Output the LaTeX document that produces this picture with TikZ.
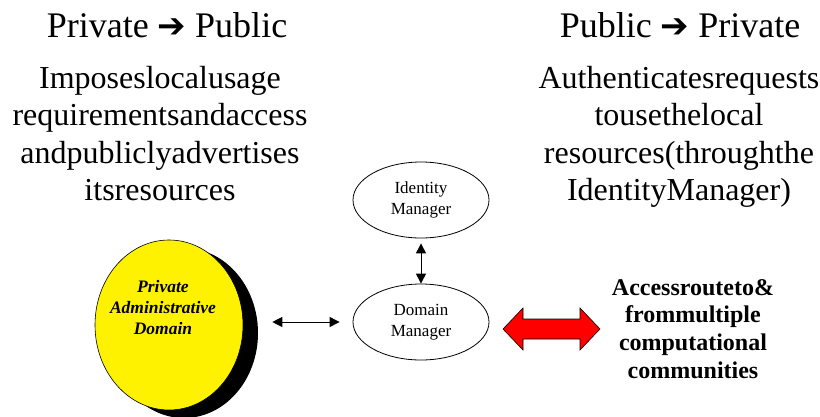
\documentclass[tikz,border=0pt]{standalone}
\usepackage{fontspec}
\setmainfont{Liberation Serif}
\newfontfamily\dejavu{DejaVu Sans}
\usetikzlibrary{arrows.meta,shapes.geometric}
\begin{document}
\begin{tikzpicture}[x=1pt,y=-1pt,
  title/.style={anchor=base,inner sep=0pt,font=\fontsize{36}{40}\selectfont},
  body/.style={anchor=north,inner sep=0pt,align=center,font=\fontsize{32}{37.5}\selectfont},
  oval/.style={ellipse,draw=black,line width=0.8pt,inner sep=0pt,minimum width=136pt,minimum height=76pt,align=center,font=\fontsize{17}{21}\selectfont},
  conn/.style={{Triangle[length=10pt,width=10pt]}-{Triangle[length=10pt,width=10pt]},line width=1pt},
  bigarrow/.style={fill=red,draw=black,line width=0.6pt,line join=miter},
  boldtext/.style={anchor=north,inner sep=0pt,align=center,font=\fontsize{24}{27.7}\selectfont\bfseries}
]
\useasboundingbox (0,0) rectangle (820,416);
% titles
\node[title] (t1) at (167,37) {Private {\dejavu\bfseries\fontsize{34}{36}\selectfont ➔} Public};
\node[title] (t2) at (680,37) {Public {\dejavu\bfseries\fontsize{34}{36}\selectfont ➔} Private};
% body texts
\node[body] (b1) at (160,66) {Imposeslocalusage\\requirementsandaccess\\andpubliclyadvertises\\itsresources};
\node[body] (b2) at (679,66) {Authenticatesrequests\\tousethelocal\\resources(throughthe\\IdentityManager)};
% private administrative domain
\fill[black] (184,333) ellipse [x radius=74, y radius=85];
\node[ellipse,fill=yellow,draw=black,line width=0.6pt,minimum width=148pt,minimum height=170pt,inner sep=0pt] (pad) at (169,325) {};
\node[inner sep=0pt,align=center,font=\fontsize{17.5}{21}\selectfont\bfseries\itshape] (padtext) at (163,308) {Private\\Administrative\\Domain};
% managers
\node[oval] (im) at (421,200) {Identity\\Manager};
\node[oval] (dm) at (421,322) {Domain\\Manager};
% connectors
\draw[conn,shorten <=5pt] (im.south) -- (dm.north);
\draw[conn,shorten <=29pt,shorten >=13pt] (pad.east |- dm.west) -- (dm.west);
% red double arrow
\draw[bigarrow] (503,329) -- (523,308) -- (523,319) -- (580,319) -- (580,308) -- (600,329) -- (580,350) -- (580,339) -- (523,339) -- (523,350) -- cycle;
% bold text
\node[boldtext] (acc) at (693,279) {Accessrouteto\&\\frommultiple\\computational\\communities};
\end{tikzpicture}
\end{document}
